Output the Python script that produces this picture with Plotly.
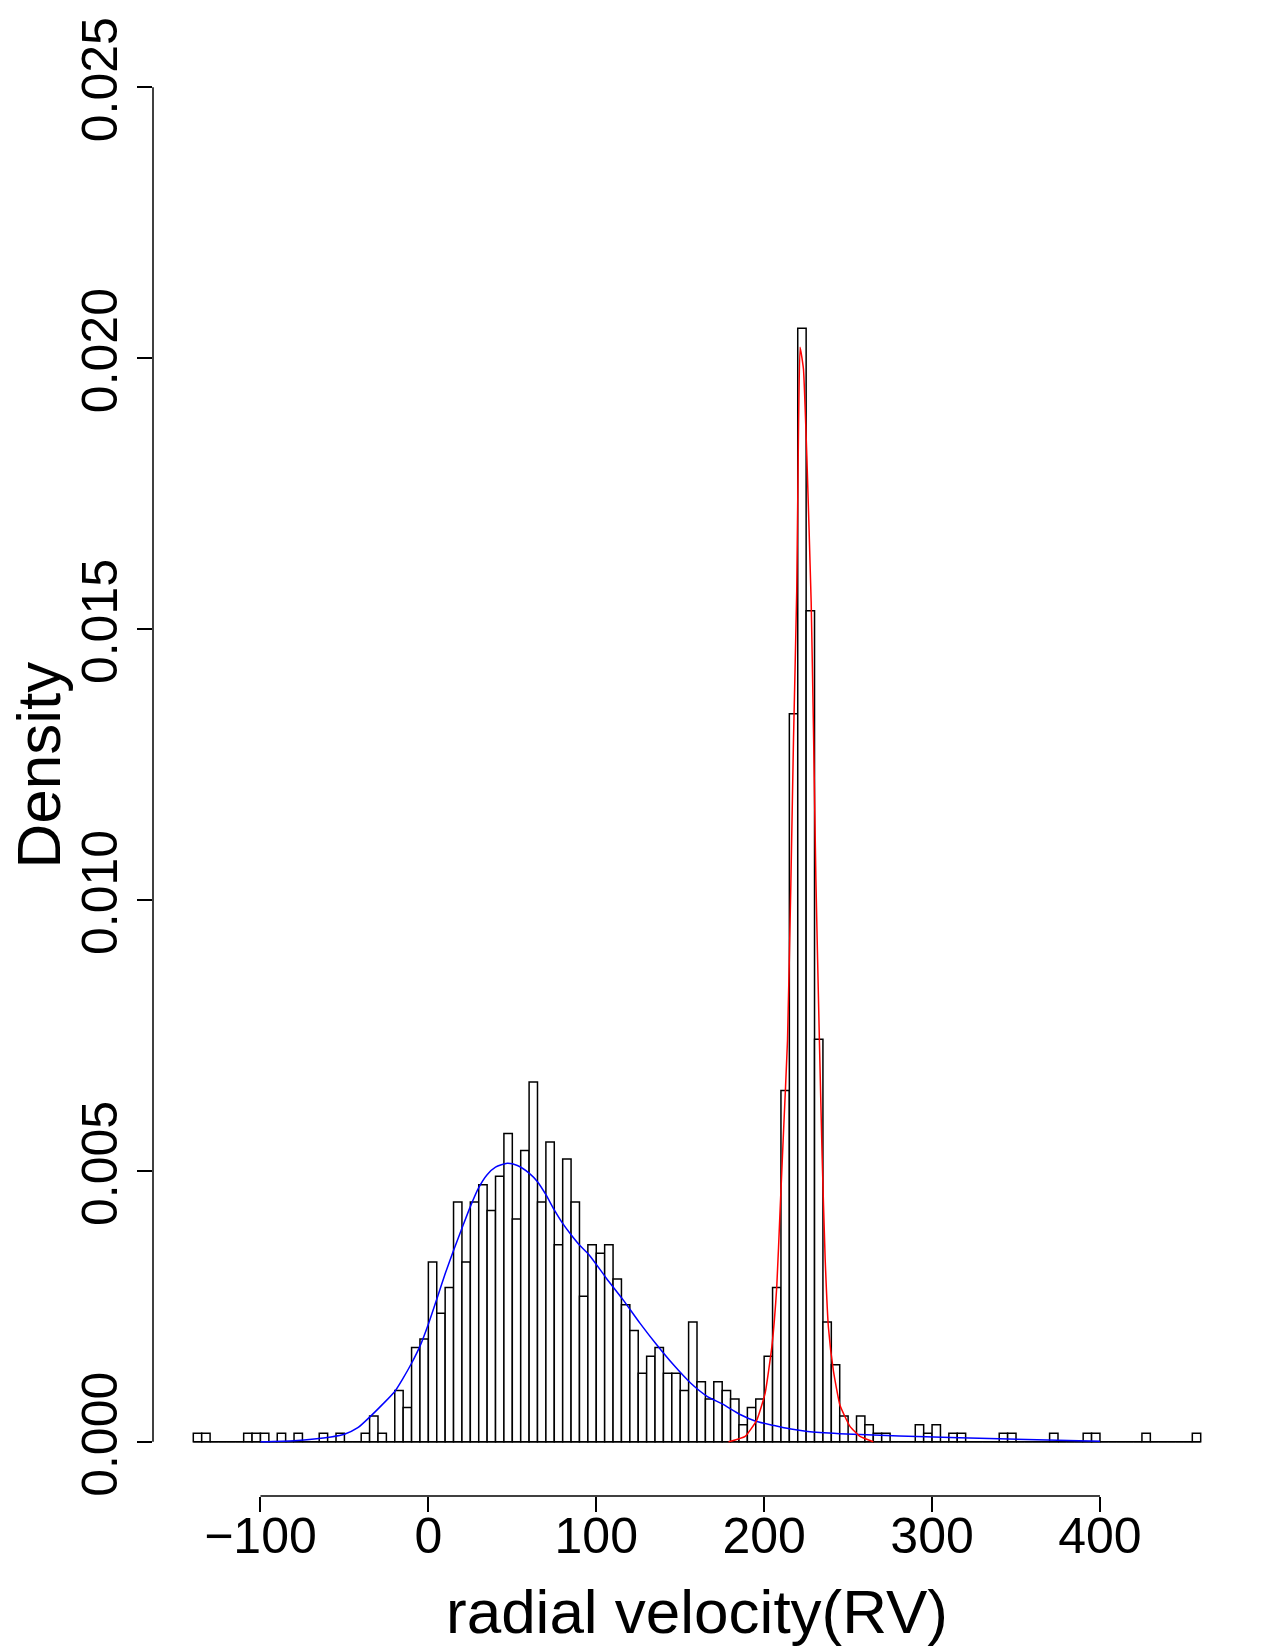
import numpy as np
import plotly.graph_objects as go

# ---------------- data ----------------
bin_width = 5
bin_start = -140
counts = [
    1, 1, 0, 0, 0, 0, 1, 1, 1, 0,        # -140 .. -95
    1, 0, 1, 0, 0, 1, 0, 1, 0, 0,        # -90 .. -45
    1, 3, 1, 0, 6, 4, 11, 12, 21, 15,    # -40 .. 5
    18, 28, 21, 28, 30, 27, 31, 36, 26, 34,   # 10 .. 55
    42, 28, 35, 23, 33, 28, 17, 23, 22, 23,   # 60 .. 105
    19, 16, 13, 8, 10, 11, 8, 8, 6, 14,       # 110 .. 155
    7, 5, 7, 6, 5, 2, 4, 5, 10, 18,           # 160 .. 205
    41, 85, 130, 97, 47, 14, 9, 3, 0, 3,      # 210 .. 255
    2, 1, 1, 0, 0, 0, 2, 1, 2, 0,             # 260 .. 305
    1, 1, 0, 0, 0, 0, 1, 1, 0, 0,             # 310 .. 355
    0, 0, 1, 0, 0, 0, 1, 1, 0, 0,             # 360 .. 405
    0, 0, 0, 1, 0, 0, 0, 0, 0, 1,             # 410 .. 455
]

# blue density curve (broad component)
blue_x = [-100, -80, -68, -58, -50, -42, -34.5, -27, -20, -15.7, -10, -4.8, 0.2, 5.2, 10.1,
          15.1, 20, 25, 30, 35, 40, 47, 53, 60, 65, 70, 75, 80, 85, 90, 96, 106, 116, 126,
          136, 146, 156, 166, 175, 186, 195, 206, 215, 226, 245, 269, 291, 340, 400]
blue_y = [0.0, 0.00002, 0.00005, 0.00009, 0.00014, 0.00026, 0.00047, 0.0007, 0.00093,
          0.00114, 0.00145, 0.00178, 0.00219, 0.00265, 0.00311, 0.00354, 0.00394, 0.00434,
          0.00469, 0.00493, 0.00507, 0.00514, 0.0051, 0.00496, 0.0048, 0.00456, 0.00428,
          0.00403, 0.00382, 0.00363, 0.00344, 0.00302, 0.00262, 0.00219, 0.00179, 0.00142,
          0.00109, 0.00084, 0.0007, 0.0005, 0.00038, 0.0003, 0.00024, 0.00019, 0.00015,
          0.00012, 0.0001, 0.000055, 0.00001]

# red density curve (narrow component)
red_x = [178.8, 188.7, 195.6, 200.6, 204.6, 207.5, 209.5, 211.5, 213.9, 215.9, 217.5, 219.4,
         220.5, 221.4, 223.4, 225.4, 228, 229.4, 230.8, 232.9, 234.5, 236.3, 238.3, 241.3,
         245.2, 251.2, 257.1, 265]
red_y = [0.0, 0.0001, 0.0004, 0.0009, 0.00176, 0.00286, 0.00428, 0.0057, 0.0074, 0.0103,
         0.0130, 0.0157, 0.0188, 0.0202, 0.0198, 0.0182, 0.0155, 0.0131, 0.0104, 0.0074,
         0.0053, 0.0034, 0.0021, 0.0013, 0.00067, 0.00028, 0.0001, 0.0]

x_ticks = [-100, 0, 100, 200, 300, 400]
x_tick_text = ["\u2212100", "0", "100", "200", "300", "400"]
y_ticks = [0.0, 0.005, 0.010, 0.015, 0.020, 0.025]
y_tick_text = ["0.000", "0.005", "0.010", "0.015", "0.020", "0.025"]

x_title = "radial velocity(RV)"
y_title = "Density"

# ---------------- derived ----------------
counts_arr = np.array(counts, dtype=float)
edges = bin_start + bin_width * np.arange(len(counts) + 1)
centers = edges[:-1] + bin_width / 2
density = counts_arr / (counts_arr.sum() * bin_width)

FONT = "Liberation Sans, Arial, Helvetica, sans-serif"

fig = go.Figure()

# baseline drawn by zero-height bins (R style)
fig.add_trace(go.Scatter(
    x=[edges[0], edges[-1]], y=[0, 0], mode="lines",
    line=dict(color="black", width=1.5), hoverinfo="skip", showlegend=False))

fig.add_trace(go.Bar(
    x=centers, y=density, width=bin_width,
    marker=dict(color="white", line=dict(color="black", width=1.5)),
    showlegend=False))

fig.add_trace(go.Scatter(
    x=blue_x, y=blue_y, mode="lines",
    line=dict(color="#0000FF", width=1.5, shape="spline", smoothing=0.6),
    showlegend=False))

fig.add_trace(go.Scatter(
    x=red_x, y=red_y, mode="lines",
    line=dict(color="#FF0000", width=1.5, shape="spline", smoothing=0.4),
    showlegend=False))

# R-style axis lines spanning only first..last tick
fig.add_shape(type="line", xref="x", yref="paper", x0=x_ticks[0], x1=x_ticks[-1], y0=0, y1=0,
              line=dict(color="black", width=1.5))
fig.add_shape(type="line", xref="paper", yref="y", x0=0, x1=0, y0=y_ticks[0], y1=y_ticks[-1],
              line=dict(color="black", width=1.5))

fig.update_layout(
    width=1275, height=1650,
    margin=dict(l=153, r=34, t=33, b=154),
    paper_bgcolor="white", plot_bgcolor="white",
    font=dict(family=FONT, color="black"),
    barmode="overlay",
    xaxis=dict(range=[-164, 484], showgrid=False, zeroline=False, showline=False,
               tickmode="array", tickvals=x_ticks, ticktext=x_tick_text,
               ticks="outside", ticklen=15, tickwidth=1.5, tickcolor="black",
               ticklabelstandoff=-19,
               tickfont=dict(size=50, family=FONT, color="black")),
    yaxis=dict(range=[-0.001, 0.026], showgrid=False, zeroline=False, showline=False,
               tickmode="array", tickvals=y_ticks, ticktext=y_tick_text,
               ticks="outside", ticklen=15, tickwidth=1.5, tickcolor="black",
               tickangle=-90,
               tickfont=dict(size=50, family=FONT, color="black")),
    annotations=[
        dict(text=x_title, xref="paper", yref="paper", x=0.5, y=-0.0787,
             xanchor="center", yanchor="middle", showarrow=False,
             font=dict(size=62, family=FONT, color="black")),
        dict(text=y_title, xref="paper", yref="paper", x=-0.1048, y=0.5,
             xanchor="center", yanchor="middle", showarrow=False, textangle=-90,
             font=dict(size=62, family=FONT, color="black")),
    ],
)

fig.write_html("out.html")
